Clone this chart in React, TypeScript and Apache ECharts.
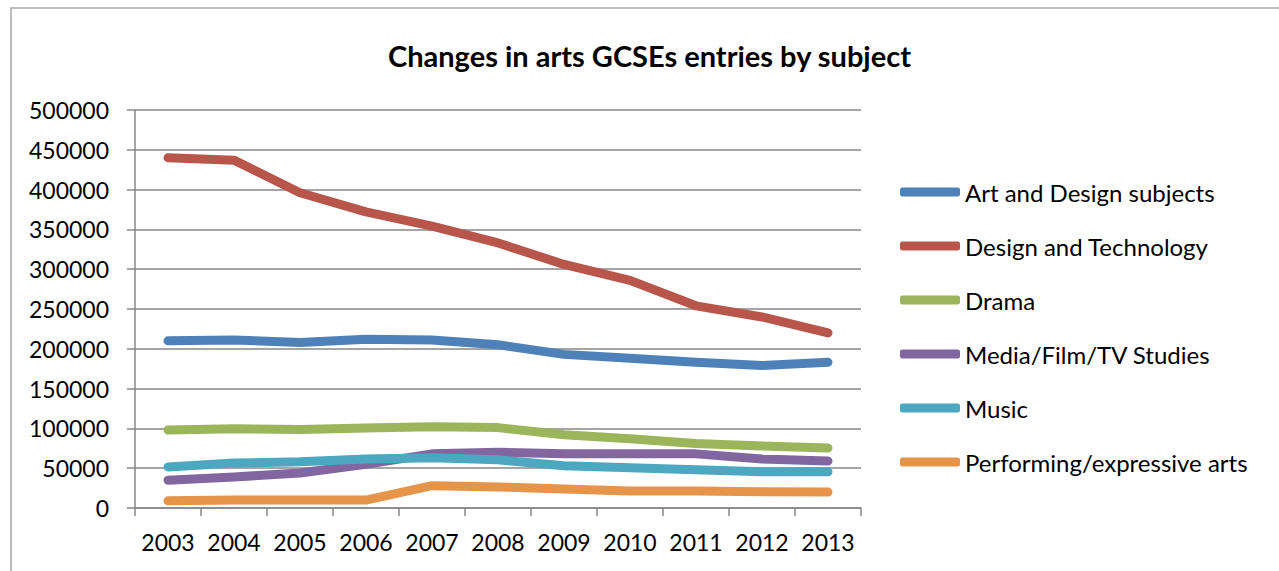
import React, { useEffect, useRef } from "react";
import * as echarts from "echarts";

const years = ["2003", "2004", "2005", "2006", "2007", "2008", "2009", "2010", "2011", "2012", "2013"];
const artDesign = [210000, 211000, 208000, 212000, 211000, 205000, 193000, 188000, 183000, 179000, 183000];
const designTech = [440000, 437000, 396000, 372000, 354000, 333000, 306000, 286000, 254000, 240000, 220000];
const drama = [98000, 99500, 98500, 100500, 102000, 101000, 92000, 87000, 81000, 78000, 75500];
const media = [35000, 39000, 44000, 55000, 68000, 70000, 68000, 68000, 68000, 61500, 59000];
const music = [51500, 56500, 58000, 61500, 63000, 60500, 53000, 50500, 48000, 45500, 45500];
const performing = [9000, 10000, 10000, 10000, 28000, 26500, 24000, 21500, 21500, 20500, 20000];

const seriesNames = [
  "Art and Design subjects",
  "Design and Technology",
  "Drama",
  "Media/Film/TV Studies",
  "Music",
  "Performing/expressive arts",
];
const seriesData = [artDesign, designTech, drama, media, music, performing];
const colors = ["#4F81B9", "#B9564C", "#9BB55B", "#8266A0", "#4BA8C0", "#E6944A"];

const FONT = "Lato, 'Open Sans', sans-serif";

export default function App() {
  const ref = useRef<HTMLDivElement>(null);
  useEffect(() => {
    if (!ref.current) return;
    const chart = echarts.init(ref.current, undefined, { renderer: "svg" });
    chart.setOption({
      animation: false,
      backgroundColor: "#ffffff",
      title: {
        text: "Changes in arts GCSEs entries by subject",
        left: 383,
        top: 36,
        textStyle: { fontFamily: FONT, fontSize: 29, fontWeight: "bold", color: "#000" },
      },
      graphic: [
        {
          type: "rect",
          shape: { x: 11, y: 8, width: 1400, height: 700 },
          style: { fill: "none", stroke: "#a6a6a6", lineWidth: 1.5 },
          silent: true,
        },
      ],
      legend: {
        orient: "vertical",
        left: 895,
        top: 175,
        itemWidth: 60,
        itemHeight: 9,
        itemGap: 30,
        icon: "roundRect",
        textStyle: { fontFamily: FONT, fontSize: 24, color: "#000", lineHeight: 24 },
        data: seriesNames,
      },
      grid: { left: 135, top: 110, right: 418, bottom: 63, containLabel: false },
      xAxis: {
        type: "category",
        data: years,
        boundaryGap: true,
        axisLine: { lineStyle: { color: "#878787", width: 1.5 } },
        axisTick: { show: true, length: 8, interval: 0, lineStyle: { color: "#878787", width: 1.5 } },
        axisLabel: { fontFamily: FONT, fontSize: 23, color: "#000", margin: 22, interval: 0 },
        splitLine: { show: false },
      },
      yAxis: {
        type: "value",
        min: 0,
        max: 500000,
        interval: 50000,
        axisLine: { show: true, lineStyle: { color: "#878787", width: 1.5 } },
        axisTick: { show: true, length: 8, lineStyle: { color: "#878787", width: 1.5 } },
        axisLabel: {
          fontFamily: FONT,
          fontSize: 23,
          color: "#000",
          margin: 26,
          formatter: (v: number) => String(v),
        },
        splitLine: { show: true, lineStyle: { color: "#878787", width: 1.5 } },
      },
      series: seriesNames.map((name, i) => ({
        name,
        type: "line",
        data: seriesData[i],
        symbol: "none",
        color: colors[i],
        lineStyle: { width: 9, color: colors[i], cap: "round", join: "round" },
        itemStyle: { color: colors[i] },
      })),
    });
    return () => chart.dispose();
  }, []);
  return (
    <div
      ref={ref}
      style={{ position: "fixed", left: 0, top: 0, width: 1279, height: 571 }}
    />
  );
}
